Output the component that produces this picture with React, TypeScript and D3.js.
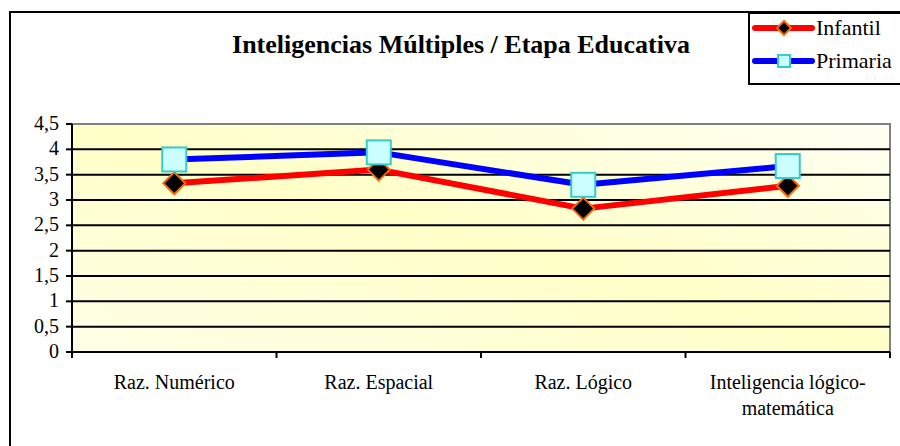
import React from 'react';
import * as d3 from 'd3';

const categories = ['Raz. Numérico', 'Raz. Espacial', 'Raz. Lógico', 'Inteligencia lógico-|matemática'];
const infantil = [3.33, 3.6, 2.83, 3.28];
const primaria = [3.8, 3.94, 3.3, 3.67];
const yTicks = [0, 0.5, 1, 1.5, 2, 2.5, 3, 3.5, 4, 4.5];
const yTickLabels = ['0', '0,5', '1', '1,5', '2', '2,5', '3', '3,5', '4', '4,5'];

const txt = { fontFamily: '"Liberation Serif"' };

export default function App() {
  const left = 72, right = 890, top = 124, bottom = 352;

  const x = d3.scaleBand<string>().domain(categories).range([left, right]);
  const y = d3.scaleLinear().domain([0, 4.5]).range([bottom, top]);
  const cx = (c: string) => (x(c) as number) + x.bandwidth() / 2;

  const line = d3.line<number>()
    .x((_, i) => cx(categories[i]))
    .y((v) => y(v));

  const diamond = (px: number, py: number, r: number) =>
    `M${px},${py - r}L${px + r},${py}L${px},${py + r}L${px - r},${py}Z`;

  return (
    <svg width={900} height={446} style={{ position: 'absolute', left: 0, top: 0, background: '#fff' }}>
      <defs>
        <linearGradient id="bg" x1="0" y1="1" x2="1" y2="0">
          <stop offset="0%" stopColor="#ffffe8" />
          <stop offset="50%" stopColor="#ffffc8" />
          <stop offset="100%" stopColor="#fffff4" />
        </linearGradient>
      </defs>

      {/* chart frame */}
      <rect x={10} y={12} width={900} height={450} fill="#fff" stroke="#000" strokeWidth={2} />

      <text x={461} y={53} textAnchor="middle" style={txt} fontWeight="bold" fontSize={26} fill="#000">
        Inteligencias Múltiples / Etapa Educativa
      </text>

      {/* plot area */}
      <rect x={left} y={top} width={right - left} height={bottom - top} fill="url(#bg)" />
      <path d={`M${left},${top}H${right}V${bottom}`} fill="none" stroke="#808080" strokeWidth={2} />

      {yTicks.map((t, i) => (
        <g key={t}>
          {t > 0 && t < 4.5 && (
            <line x1={left} x2={right} y1={y(t)} y2={y(t)} stroke="#000" strokeWidth={2} />
          )}
          <line x1={left - 6} x2={left} y1={y(t)} y2={y(t)} stroke="#000" strokeWidth={2} />
          <text x={59} y={y(t) + 6} textAnchor="end" style={txt} fontSize={20} fill="#000">
            {yTickLabels[i]}
          </text>
        </g>
      ))}

      {/* axes */}
      <line x1={left} x2={left} y1={top} y2={bottom + 6} stroke="#000" strokeWidth={2} />
      <line x1={left} x2={right} y1={bottom} y2={bottom} stroke="#000" strokeWidth={2} />
      {categories.map((c) => (
        <line key={c} x1={(x(c) as number) + x.bandwidth()} x2={(x(c) as number) + x.bandwidth()}
          y1={bottom} y2={bottom + 6} stroke="#000" strokeWidth={2} />
      ))}
      {categories.map((c) => (
        <text key={c} x={cx(c)} y={389} textAnchor="middle" style={txt} fontSize={20} fill="#000">
          {c.split('|').map((part, j) => (
            <tspan key={j} x={cx(c)} dy={j === 0 ? 0 : 26}>{part}</tspan>
          ))}
        </text>
      ))}

      {/* series */}
      <path d={line(infantil) || ''} fill="none" stroke="#ff0000" strokeWidth={6} strokeLinejoin="round" />
      <path d={line(primaria) || ''} fill="none" stroke="#0000ff" strokeWidth={6} strokeLinejoin="round" />
      {infantil.map((v, i) => (
        <path key={i} d={diamond(cx(categories[i]), y(v), 11)} fill="#000" stroke="#ff6600" strokeWidth={2} />
      ))}
      {primaria.map((v, i) => (
        <rect key={i} x={cx(categories[i]) - 12} y={y(v) - 12} width={24} height={24}
          fill="#ccffff" stroke="#33cccc" strokeWidth={2} />
      ))}

      {/* legend */}
      <rect x={749} y={13} width={160} height={71} fill="#fff" stroke="#000" strokeWidth={2} />
      <line x1={755} x2={812} y1={28} y2={28} stroke="#ff0000" strokeWidth={6} strokeLinecap="round" />
      <path d={diamond(784, 28, 7)} fill="#000" stroke="#ff6600" strokeWidth={2} />
      <text x={816} y={35} style={txt} fontSize={22} fill="#000">Infantil</text>
      <line x1={755} x2={812} y1={61} y2={61} stroke="#0000ff" strokeWidth={6} strokeLinecap="round" />
      <rect x={778} y={55} width={12} height={12} fill="#ccffff" stroke="#33cccc" strokeWidth={2} />
      <text x={816} y={68} style={txt} fontSize={22} fill="#000">Primaria</text>
    </svg>
  );
}
